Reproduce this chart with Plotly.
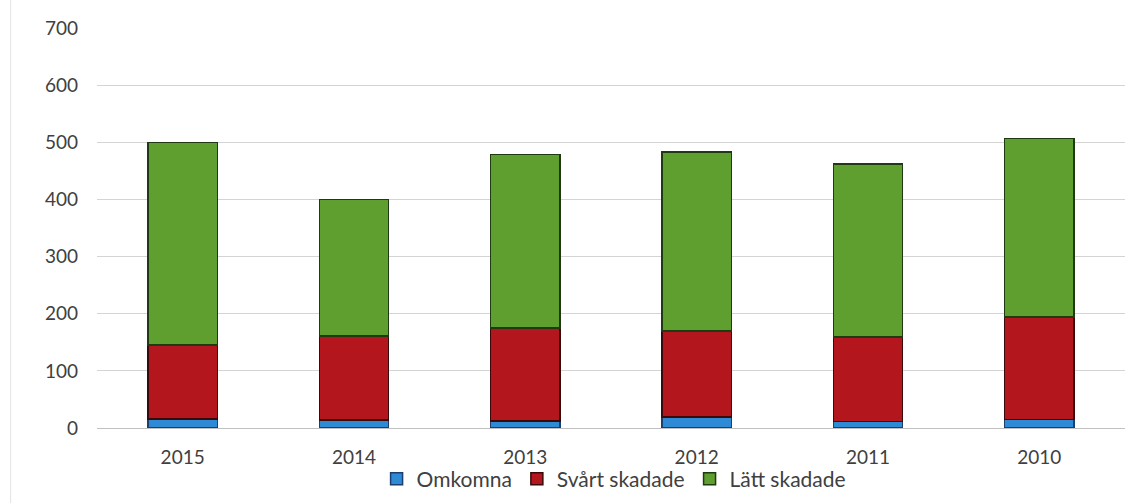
import plotly.graph_objects as go

years = ["2015", "2014", "2013", "2012", "2011", "2010"]
omkomna = [16, 14, 12, 19, 11, 15]
svart_skadade = [129, 147, 163, 151, 148, 179]
latt_skadade = [355, 239, 304, 313, 303, 313]
y_ticks = [0, 100, 200, 300, 400, 500, 600, 700]

fig = go.Figure()
fig.add_trace(go.Bar(name="Omkomna", x=years, y=omkomna,
                     marker=dict(color="#2f8ad6", line=dict(color="#1b3f6e", width=1.5))))
fig.add_trace(go.Bar(name="Svårt skadade", x=years, y=svart_skadade,
                     marker=dict(color="#b3161c", line=dict(color="#3a0a0a", width=1.5))))
fig.add_trace(go.Bar(name="Lätt skadade", x=years, y=latt_skadade,
                     marker=dict(color="#5f9f2f", line=dict(color="#1f3a12", width=1.5))))

fig.update_layout(
    barmode="stack",
    bargap=0.595,
    width=1125, height=503,
    margin=dict(l=97, r=0, t=28, b=75),
    paper_bgcolor="white", plot_bgcolor="white",
    font=dict(family="Lato, 'Liberation Sans', sans-serif", size=19, color="#404040"),
    legend=dict(orientation="h", x=0.503, y=-0.128, xanchor="center", yanchor="middle",
                font=dict(size=21, color="#404040"), itemwidth=30, traceorder="normal",
                bgcolor="rgba(0,0,0,0)"),
    xaxis=dict(showgrid=False, showline=False, ticks="", tickfont=dict(size=19),
               ticklabelstandoff=16),
    yaxis=dict(range=[0, 700], tickvals=y_ticks, showgrid=True, gridcolor="#d4d4d4",
               gridwidth=1, zeroline=True, zerolinecolor="#c0c0c0", zerolinewidth=1,
               ticks="", tickfont=dict(size=19), ticklabelstandoff=18),
)
fig.add_shape(type="line", xref="paper", yref="paper", x0=-0.084, x1=-0.084, y0=-0.2, y1=1.07,
              line=dict(color="#e4e4e4", width=1))

fig.write_html("out.html")
